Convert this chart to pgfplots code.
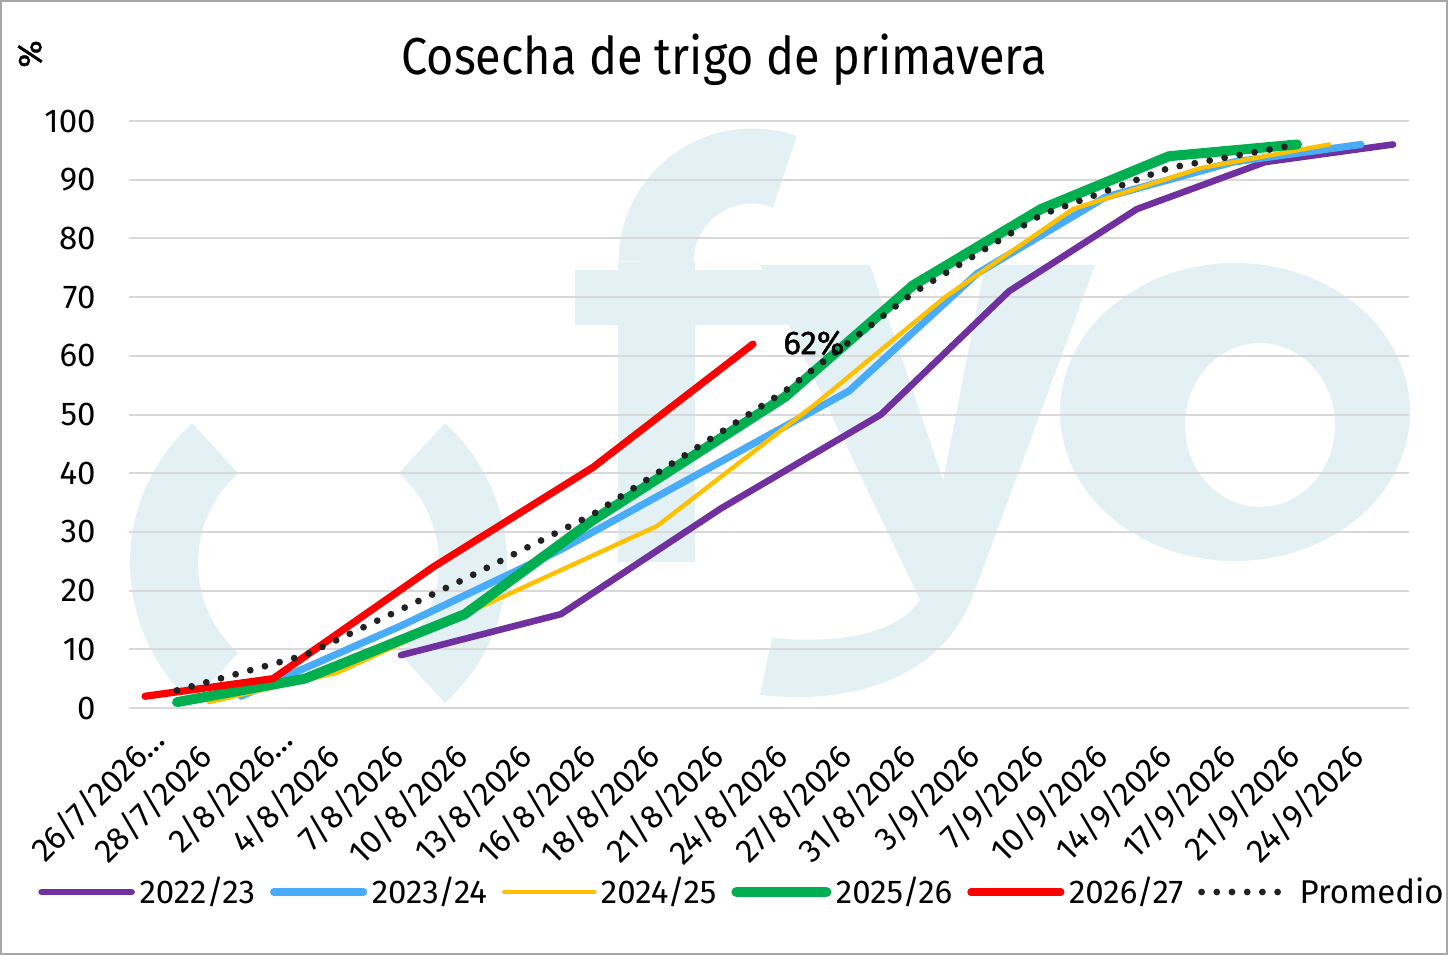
\documentclass[border=0pt]{standalone}
\usepackage{fontspec}
\setmainfont{Fira Sans}[FakeStretch=0.9]
\newfontfamily\tickfam{Fira Sans}
\newfontfamily\semibfam{Fira Sans}[FakeBold=1.2]
\usepackage{pgfplots}
\pgfplotsset{compat=1.18}
\definecolor{cpurple}{RGB}{112,48,160}
\definecolor{cblue}{RGB}{72,172,250}
\definecolor{cyellow}{RGB}{255,192,0}
\definecolor{cgreen}{RGB}{0,176,80}
\definecolor{cred}{RGB}{255,0,0}
\definecolor{cdot}{RGB}{34,34,34}
\definecolor{wm}{RGB}{227,241,245}
\definecolor{gridc}{RGB}{217,217,217}
\definecolor{borderc}{RGB}{166,166,166}
\newcommand\tf{\tickfam\fontsize{16.5}{19}\selectfont}
\begin{document}
\begin{tikzpicture}
\path[use as bounding box] (0,0) rectangle (724pt,477.5pt);
% watermark logo
\begin{scope}[shift={(0pt,477.5pt)}, x=0.5pt, y=-0.5pt]
 \draw[wm, line width=34pt] (318.5,563) ++(132:154.5) arc[start angle=132, end angle=228, radius=154.5];
 \draw[wm, line width=34pt] (318.5,563) ++(-48:154.5) arc[start angle=-48, end angle=48, radius=154.5];
 \fill[wm] (618,262) rectangle (695,562);
 \fill[wm] (575,270) rectangle (790,325);
 \draw[wm, line width=37.5pt] (752,262) ++(180:96) arc[start angle=180, end angle=290, radius=96];
 \fill[wm] (760,265) -- (870,265) -- (955,515) -- (920,600) -- cycle;
 \fill[wm] (985,265) -- (1095,265) -- (975,590) .. controls (945,680) and (850,705) .. (760,695) -- (772,638) .. controls (850,645) and (900,630) .. (920,600) -- cycle;
 \fill[wm, even odd rule] (1235,412) ellipse [x radius=175, y radius=149] (1260,425) ellipse [x radius=75, y radius=82];
\end{scope}
\draw[borderc, line width=1.2pt] (0.6pt,0.6pt) rectangle (723.4pt,476.9pt);
\node[anchor=base, font=\fontsize{26}{30}\selectfont] at (362pt,440pt) {Cosecha de trigo de primavera};
\node[rotate=90, font=\semibfam\fontsize{16.5}{19}\selectfont] at (15pt,450.5pt) {\%};
\begin{axis}[
  at={(64.5pt,123.5pt)}, anchor=south west, scale only axis,
  width=640pt, height=293.5pt,
  xmin=-0.5, xmax=39.5, ymin=0, ymax=100,
  xtick={0,2,...,38},
  xticklabels={26/7/2026\rlap{…}, 28/7/2026, 2/8/2026\rlap{…}, 4/8/2026, 7/8/2026, 10/8/2026, 13/8/2026, 16/8/2026, 18/8/2026, 21/8/2026, 24/8/2026, 27/8/2026, 31/8/2026, 3/9/2026, 7/9/2026, 10/9/2026, 14/9/2026, 17/9/2026, 21/9/2026, 24/9/2026},
  ytick={0,10,...,100},
  /pgf/number format/assume math mode=true,
  ymajorgrids, grid style={line width=1pt, gridc},
  axis line style={draw=none},
  major tick length=0pt, tick style={draw=none},
  yticklabel style={font=\tf, anchor=east, inner sep=0pt, xshift=-16.5pt},
  xticklabel style={font=\tf, inner sep=0pt, xshift=-7pt, yshift=-16pt, rotate=45, anchor=north east},
  clip=false,
  every axis plot/.append style={line join=round, line cap=round},
  legend style={at={(0.4797,-0.3135)}, anchor=center, draw=none, fill=none, font=\tf,
    legend columns=6,
    /tikz/every odd column/.append style={column sep=0.3pt},
    /tikz/every even column/.append style={column sep=5.5pt}},
  legend image code/.code={\draw[#1] (0pt,0pt) -- (45pt,0pt);},
]
\addplot[cpurple, line width=3.3pt] coordinates {(8,9) (13,16) (18,34) (23,50) (27,71) (31,85) (35,93) (39,96)};
\addlegendentry{2022/23}
\addplot[cblue, line width=3.6pt] coordinates {(3,2) (8,14) (13,27) (17,39) (22,54) (26,74) (30,87) (34,93) (38,96)};
\addlegendentry{2023/24}
\addplot[cyellow, line width=2.2pt] coordinates {(2,1) (6,6) (11,18.5) (16,31) (21,52) (25,70) (29,85) (33,92) (37,96)};
\addlegendentry{2024/25}
\addplot[cgreen, line width=5pt] coordinates {(1,1) (5,5) (10,16) (14,32) (20,53) (24,72) (28,85) (32,94) (36,96)};
\addlegendentry{2025/26}
\addplot[cred, line width=3.6pt] coordinates {(0,2) (4,5) (9,24) (14,41) (19,62)};
\addlegendentry{2026/27}
\addplot[cdot, line width=3.4pt, dash pattern=on 0pt off 7.6pt] coordinates {(1,3) (5,9) (10,22) (14,33) (20,54) (24,70.7) (28,84) (32,92) (36,96)};
\addlegendentry{Promedio}
\node[font=\semibfam\fontsize{16.5}{19}\selectfont] at (axis cs:20.9,62.2) {62\%};
\end{axis}
\end{tikzpicture}
\end{document}
